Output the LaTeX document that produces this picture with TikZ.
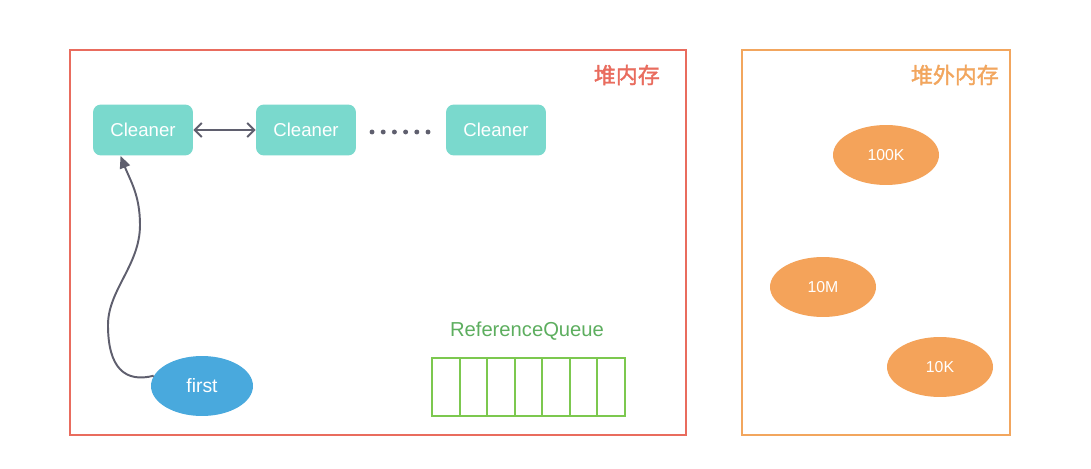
\documentclass[tikz,border=0pt]{standalone}
\usepackage{fontspec}
\setmainfont{Liberation Sans}
\newfontfamily\cjk[FakeBold=1.6]{Noto Sans CJK SC}
\usepackage{xcolor}
\usepackage{tikz}
\usetikzlibrary{arrows.meta,shapes.geometric}
\definecolor{heapred}{HTML}{E96C5E}
\definecolor{offorange}{HTML}{F2A65E}
\definecolor{blobfill}{HTML}{F4A35A}
\definecolor{cleanfill}{HTML}{7AD9CD}
\definecolor{firstfill}{HTML}{49A9DD}
\definecolor{queuegreen}{HTML}{7CC84F}
\definecolor{qtext}{HTML}{5DAE5F}
\definecolor{linkgray}{HTML}{5F5F6E}

\begin{document}
\begin{tikzpicture}[x=0.02cm,y=-0.02cm,
cleaner/.style={fill=cleanfill,rounded corners=0.16cm,minimum width=2cm,minimum height=1.02cm,text=white,font=\fontsize{10.6}{12}\selectfont},
blob/.style={ellipse,fill=blobfill,minimum width=2.12cm,minimum height=1.2cm,inner sep=0pt,text=white,font=\fontsize{9}{11}\selectfont},
memlabel/.style={anchor=east,font=\cjk\fontsize{12.5}{14}\selectfont},
link/.style={linkgray,line width=1.1pt}]
\fill[white](0,0)rectangle(1091,469);
\useasboundingbox(0,0)rectangle(1091,469);
\draw[heapred,line width=1.2pt](70,50)rectangle(686,435);
\node[memlabel,text=heapred](heaplbl)at(666,75){堆内存};
\draw[offorange,line width=1.2pt](742,50)rectangle(1010,435);
\node[memlabel,text=offorange](offlbl)at(1005,75){堆外内存};
\node[cleaner](cl1)at(143,130){Cleaner};
\node[cleaner](cl2)at(306,130){Cleaner};
\node[cleaner](cl3)at(496,130){Cleaner};
\draw[link,{Straight Barb[length=4pt,width=8pt]}-{Straight Barb[length=4pt,width=8pt]}](cl1)--(cl2);
\foreach \i in {0,...,5}
  \fill[linkgray](372+\i*11.2,132)circle(1.4pt);
\node[ellipse,fill=firstfill,minimum width=2.04cm,minimum height=1.2cm,text=white,font=\fontsize{11}{12}\selectfont](first)at(202,386){first};
\draw[link,-{Triangle[length=7pt,width=6pt]}](first.168)..controls(125,383)and(108,368)..(108,325)
  ..controls(108,290)and(140,265)..(140,225)..controls(140,195)and(130,180)..(cl1.229);
\node[text=qtext,font=\fontsize{11.5}{13}\selectfont](qlbl)at(527,331){ReferenceQueue};
\draw[queuegreen,line width=1.1pt](432,358)rectangle(625,416);
\foreach \i in {1,...,6}
  \draw[queuegreen,line width=1.1pt](432+\i*27.57,358)--++(0,58);
\node[blob](b1)at(886,155){100K};
\node[blob](b2)at(823,287){10M};
\node[blob](b3)at(940,367){10K};
\end{tikzpicture}
\end{document}
